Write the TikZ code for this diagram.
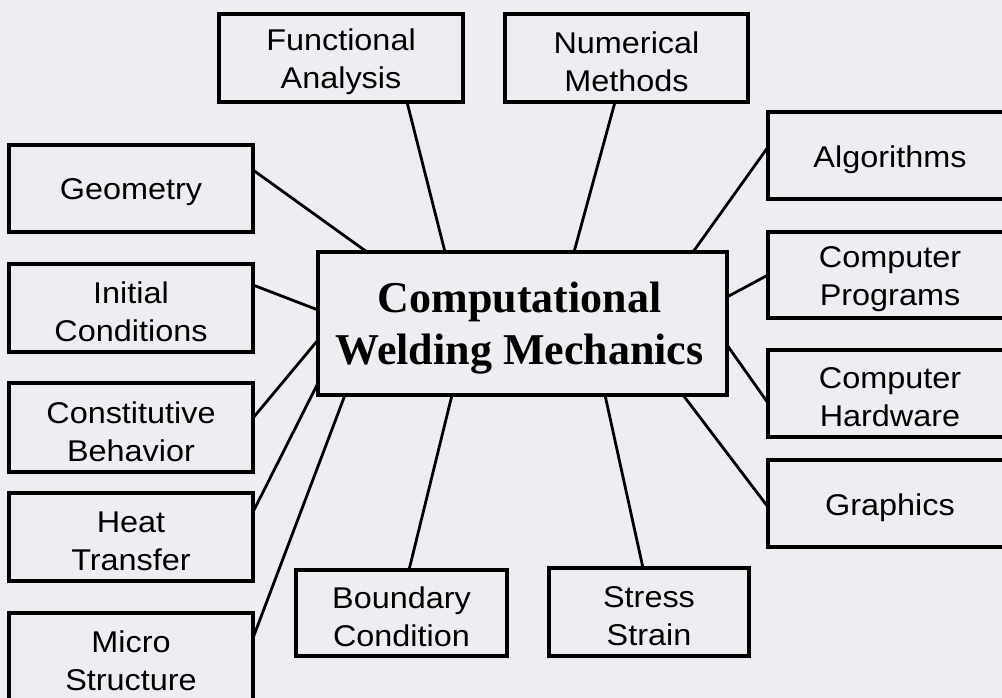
\documentclass[tikz,border=0pt]{standalone}
\usepackage{fontspec}
\setmainfont{Liberation Serif}
\newfontfamily\boxfont[FakeStretch=1.08]{Liberation Sans}
\usetikzlibrary{calc}
\definecolor{bg}{RGB}{238,238,242}
\begin{document}
\begin{tikzpicture}[x=1pt,y=-1pt,
  topic/.style={draw=black,line width=3.2pt,fill=bg,rectangle,inner sep=0pt,outer sep=0pt},
  txt/.style={align=center,inner sep=0pt,yshift=-4pt,font=\boxfont\fontsize{30}{38}\selectfont},
  hubtxt/.style={align=center,inner sep=0pt,yshift=-5pt,xshift=-3pt,font=\bfseries\fontsize{44}{52}\selectfont},
  hub/.style={draw=black,line width=3.4pt,fill=bg,rectangle,inner sep=0pt,outer sep=0pt},
  link/.style={line width=2.8pt,line cap=round}]
\fill[bg] (0,0) rectangle (1002,698);
\useasboundingbox (0,0) rectangle (1002,698);
% central
\node[hub,minimum width=409pt,minimum height=143pt,label={[hubtxt]center:{Computational\\Welding Mechanics}}] (c) at (522.5,323.5) {};
% top
\node[topic,minimum width=244pt,minimum height=88pt,label={[txt]center:{Functional\\Analysis}}] (f) at (341,58) {};
\node[topic,minimum width=243pt,minimum height=88pt,label={[txt]center:{Numerical\\Methods}}] (n) at (626.5,58) {};
% left
\node[topic,minimum width=244pt,minimum height=87pt,label={[txt]center:{Geometry}}] (g) at (131,188.5) {};
\node[topic,minimum width=244pt,minimum height=88pt,label={[txt]center:{Initial\\Conditions}}] (i) at (131,308) {};
\node[topic,minimum width=244pt,minimum height=89pt,label={[txt]center:{Constitutive\\Behavior}}] (cb) at (131,427.5) {};
\node[topic,minimum width=244pt,minimum height=88pt,label={[txt]center:{Heat\\Transfer}}] (ht) at (131,537) {};
\node[topic,minimum width=244pt,minimum height=88pt,label={[txt]center:{Micro\\Structure}}] (m) at (131,657) {};
% right
\node[topic,minimum width=244pt,minimum height=87pt,label={[txt]center:{Algorithms}}] (a) at (890,155.5) {};
\node[topic,minimum width=244pt,minimum height=86pt,label={[txt]center:{Computer\\Programs}}] (p) at (890,275) {};
\node[topic,minimum width=244pt,minimum height=87pt,label={[txt]center:{Computer\\Hardware}}] (h) at (890,393.5) {};
\node[topic,minimum width=244pt,minimum height=87pt,label={[txt]center:{Graphics}}] (gr) at (890,503.5) {};
% bottom
\node[topic,minimum width=211pt,minimum height=86pt,label={[txt]center:{Boundary\\Condition}}] (b) at (401.5,613) {};
\node[topic,minimum width=200pt,minimum height=88pt,label={[txt]center:{Stress\\Strain}}] (s) at (649,612) {};
% connectors
\draw[link] ($(g.east)+(0,-18.5)$) -- ($(c.north west)+(49,0)$);
\draw[link] ($(f.south)+(66,0)$) -- ($(c.north west)+(127,0)$);
\draw[link] ($(n.south)+(-11.5,0)$) -- ($(c.north west)+(256,0)$);
\draw[link] ($(a.west)+(0,-8.5)$) -- ($(c.north west)+(375,0)$);
\draw[link] (p.west) -- ($(c.north east)+(0,45)$);
\draw[link] ($(h.west)+(0,9.5)$) -- ($(c.north east)+(0,93)$);
\draw[link] ($(gr.west)+(0,3.5)$) -- ($(c.south east)+(-44,0)$);
\draw[link] ($(s.north)+(-6,0)$) -- ($(c.south west)+(287,0)$);
\draw[link] ($(b.north)+(7.5,0)$) -- ($(c.south west)+(134,0)$);
\draw[link] ($(i.east)+(0,-23)$) -- ($(c.north west)+(0,58)$);
\draw[link] ($(cb.east)+(0,-9.5)$) -- ($(c.north west)+(0,88)$);
\draw[link] ($(ht.east)+(0,-25)$) -- ($(c.north west)+(0,131)$);
\draw[link] ($(m.east)+(0,-19)$) -- ($(c.south west)+(27,0)$);
\end{tikzpicture}
\end{document}
